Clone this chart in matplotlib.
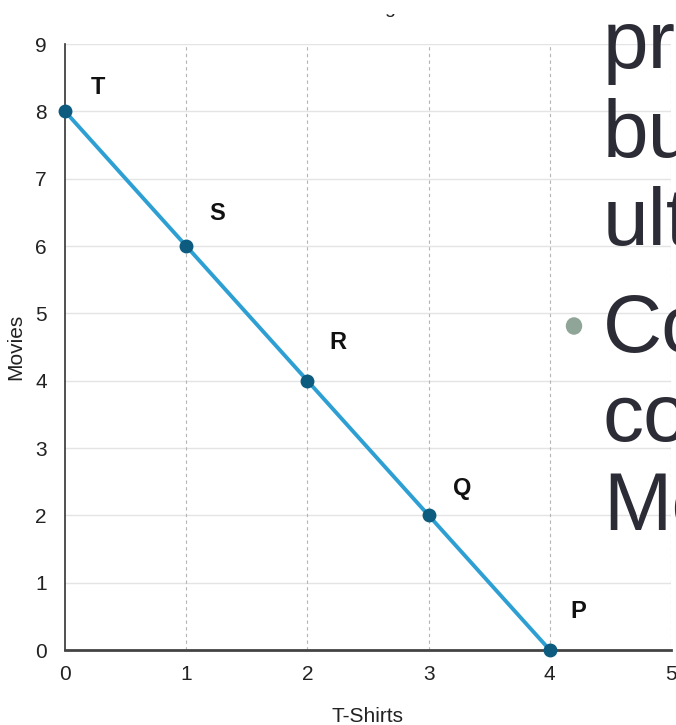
import matplotlib
matplotlib.use("Agg")
import matplotlib.pyplot as plt
from matplotlib.transforms import Bbox

# ---- data ----
tshirts = [0, 1, 2, 3, 4]
movies = [8, 6, 4, 2, 0]
point_labels = ["T", "S", "R", "Q", "P"]
x_ticks = [0, 1, 2, 3, 4, 5]
y_ticks = [0, 1, 2, 3, 4, 5, 6, 7, 8, 9]
x_label = "T-Shirts"
y_label = "Movies"
slide_lines_a = ["pro", "bu", "ult"]
slide_lines_b = ["Co", "co", "Mo"]

# ---- layout / style ----
W, H = 676, 725
FONT = ["Liberation Sans Narrow", "Liberation Sans", "DejaVu Sans"]
plt.rcParams["font.family"] = FONT

fig = plt.figure(figsize=(W / 100, H / 100), dpi=100)
left, right, top, bottom = 65, 671, 44, 650
ax = fig.add_axes([left / W, 1 - bottom / H, (right - left) / W, (bottom - top) / H])

ax.set_xlim(0, 5)
ax.set_ylim(0, 9)
ax.set_xticks(x_ticks)
ax.set_yticks(y_ticks)
ax.tick_params(axis="both", length=0, labelsize=15, labelcolor="#222222")
ax.tick_params(axis="y", pad=13)
ax.tick_params(axis="x", pad=11)

# grid
for yv in y_ticks:
    ax.axhline(yv, color="#e4e4e4", lw=1.0, zorder=0)
for xv in x_ticks[1:]:
    ax.axvline(xv, color="#b5b5b5", lw=0.8, ls=(0, (3, 3)), zorder=0)

for s in ["top", "right"]:
    ax.spines[s].set_visible(False)
ax.spines["left"].set_color("#333333")
ax.spines["left"].set_linewidth(1.2)
ax.spines["bottom"].set_color("#444444")
ax.spines["bottom"].set_linewidth(2.0)

ax.plot(tshirts, movies, color="#2d9fd3", lw=2.8, zorder=3, clip_on=False)
ax.plot(tshirts, movies, ls="none", marker="o", ms=9, color="#0d5b7f",
        zorder=4, clip_on=False)

offsets_px = [(33, 24), (31, 33), (30, 38), (34, 27), (28, 38)]
for xv, yv, lab, (dx, dy) in zip(tshirts, movies, point_labels, offsets_px):
    ax.annotate(lab, (xv, yv), xytext=(dx * 0.72, dy * 0.72),
                textcoords="offset points", ha="center", va="center",
                fontsize=17, fontweight="bold", color="#111111", zorder=5)

ax.set_xlabel(x_label, fontsize=15, color="#222222", labelpad=16)
ax.set_ylabel(y_label, fontsize=15, color="#222222", labelpad=7)

# clipped title remnant at top
t = fig.text(390 / W, 1 - 13 / H, "g", fontsize=14, ha="center", va="baseline",
             color="#222222")
t.set_clip_box(Bbox([[0, 0], [W, H - 13.5]]))
t.set_clip_on(True)

# overlaid slide text
txt_color = "#2b2c36"
for line, base in zip(slide_lines_a, [68, 157, 245]):
    fig.text(603 / W, 1 - base / H, line, fontsize=59, color=txt_color,
             ha="left", va="baseline", zorder=10)
for line, base in zip(slide_lines_b, [352, 441, 530]):
    fig.text(603 / W, 1 - base / H, line, fontsize=59, color=txt_color,
             ha="left", va="baseline", zorder=10)
fig.patches.append(plt.Circle((574 / W, 1 - 326 / H), 7.5 / W,
                              transform=fig.transFigure, color="#8fa597",
                              zorder=10))

fig.savefig("out.png", dpi=100)
